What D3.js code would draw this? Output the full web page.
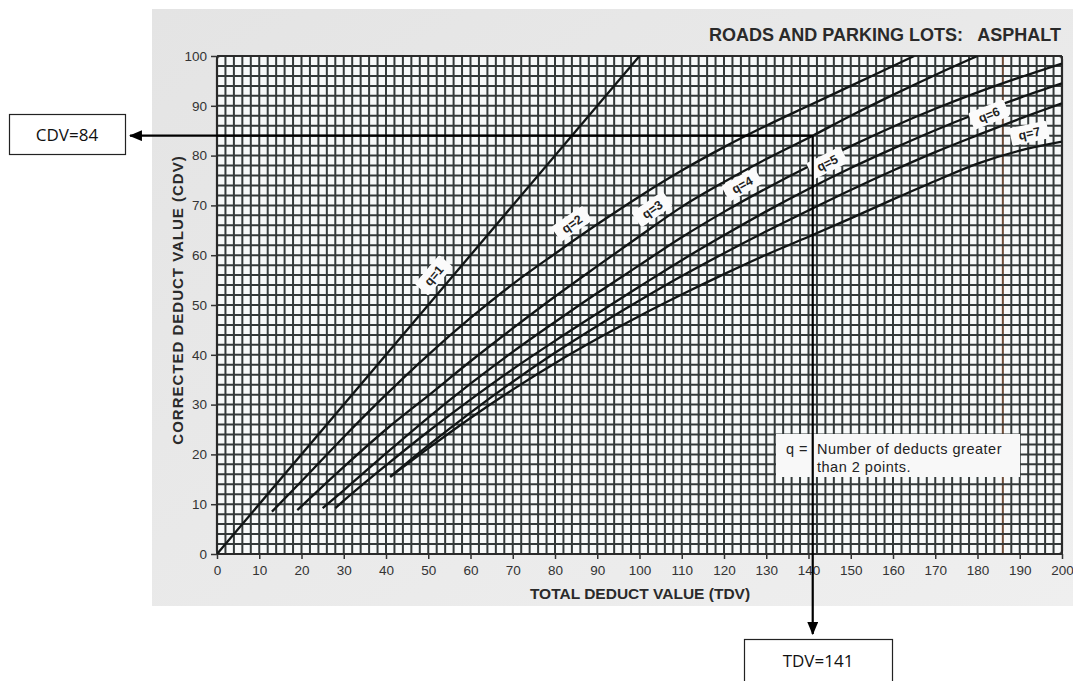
<!DOCTYPE html>
<html>
<head>
<meta charset="utf-8">
<script src="https://cdn.jsdelivr.net/npm/d3@7"></script>
<style>
  body { margin: 0; background: #ffffff; }
  svg { display: block; }
</style>
</head>
<body>
<svg id="chart" width="1073" height="681"></svg>
<script>
// ---- Axis ticks ----
const tdvTicks = d3.range(0, 201, 10);
const cdvTicks = d3.range(0, 101, 10);

// ---- Correction curves: TDV -> CDV, one pair of arrays per q ----
const q1Tdv = [0, 100];
const q1Cdv = [0, 100];

const q2Tdv = [13, 20, 30, 40, 50, 60, 70, 80, 90, 100, 110, 120, 130, 140, 150, 160, 165];
const q2Cdv = [8.5, 14.6, 23.5, 32, 40, 47.4, 54.2, 60.3, 66.2, 71.8, 77, 81.7, 86, 90, 94, 98, 100];

const q3Tdv = [19, 30, 40, 50, 60, 70, 80, 90, 100, 110, 120, 130, 141, 150, 160, 170, 180];
const q3Cdv = [8.8, 17.5, 25, 31.8, 38.7, 45.3, 51.7, 57.8, 63.8, 69.7, 74.7, 79.3, 84, 88, 92.2, 96.2, 100];

const q4Tdv = [25, 30, 40, 50, 60, 70, 80, 90, 100, 110, 120, 130, 140, 150, 160, 170, 180, 190, 200];
const q4Cdv = [9.2, 12.8, 20.2, 27.4, 34.2, 40.6, 46.6, 52.4, 58, 63.6, 68.7, 73.4, 77.8, 81.9, 85.8, 89.4, 92.7, 95.7, 98.5];

const q5Tdv = [28, 30, 40, 50, 60, 70, 80, 90, 100, 110, 120, 130, 140, 150, 160, 170, 180, 190, 200];
const q5Cdv = [9.2, 10.7, 17.8, 24.6, 31, 37.1, 42.8, 48.3, 53.7, 59, 64, 68.8, 73.3, 77.5, 81.4, 85.1, 88.5, 91.6, 94.5];

const q6Tdv = [41, 50, 60, 70, 80, 90, 100, 110, 120, 130, 140, 150, 160, 170, 180, 190, 200];
const q6Cdv = [15.5, 21.8, 28.4, 34.6, 40.4, 45.8, 50.9, 55.8, 60.4, 64.8, 69, 73.1, 77, 80.7, 84.1, 87.4, 90.5];

const q7Tdv = [41, 50, 60, 70, 80, 90, 100, 110, 120, 130, 140, 150, 160, 170, 180, 190, 200];
const q7Cdv = [15.5, 21.2, 27.3, 33, 38.3, 43.2, 47.8, 52.1, 56.2, 60.1, 63.7, 67.4, 71.2, 74.9, 78.4, 81, 82.8];

const curveNames = ["q=1", "q=2", "q=3", "q=4", "q=5", "q=6", "q=7"];
const labelTdv = [54, 86, 105, 126, 146, 184, 193];

// ---- Worked reading ----
const readTdv = 141;
const readCdv = 84;

// ---- Texts ----
const chartTitle = "ROADS AND PARKING LOTS:   ASPHALT";
const xTitle = "TOTAL DEDUCT VALUE (TDV)";
const yTitle = "CORRECTED DEDUCT VALUE (CDV)";
const noteSymbol = "q =";
const noteLines = ["Number of deducts greater", "than 2 points."];

// ---- Build ----
const curves = [
  [q1Tdv, q1Cdv], [q2Tdv, q2Cdv], [q3Tdv, q3Cdv], [q4Tdv, q4Cdv],
  [q5Tdv, q5Cdv], [q6Tdv, q6Cdv], [q7Tdv, q7Cdv]
].map(([t, c], i) => ({ name: curveNames[i], pts: t.map((v, k) => [v, c[k]]), labelAt: labelTdv[i] }));

const svg = d3.select("#chart");
const x = d3.scaleLinear().domain([0, 200]).range([217, 1062]);
const y = d3.scaleLinear().domain([0, 100]).range([554, 56]);
const sans = "'Liberation Sans', Arial, Helvetica, sans-serif";

const defs = svg.append("defs");
const paperGrad = defs.append("linearGradient").attr("id", "paper").attr("x1", 0).attr("y1", 0).attr("x2", 1).attr("y2", 1);
paperGrad.append("stop").attr("offset", "0%").attr("stop-color", "#e4e4e4");
paperGrad.append("stop").attr("offset", "100%").attr("stop-color", "#efefef");
defs.append("clipPath").attr("id", "plotClip").append("rect")
  .attr("x", x(0)).attr("y", y(100)).attr("width", x(200) - x(0)).attr("height", y(0) - y(100));
defs.append("marker").attr("id", "arrow").attr("viewBox", "0 0 12 10")
  .attr("refX", 11).attr("refY", 5).attr("markerWidth", 13).attr("markerHeight", 11)
  .attr("markerUnits", "userSpaceOnUse").attr("orient", "auto")
  .append("path").attr("d", "M0,0 L12,5 L0,10 Z").attr("fill", "#000");

// paper sheet
svg.append("rect").attr("x", 152).attr("y", 9).attr("width", 921).attr("height", 597)
  .attr("fill", "url(#paper)");

// plot field
svg.append("rect").attr("x", x(0)).attr("y", y(100))
  .attr("width", x(200) - x(0)).attr("height", y(0) - y(100))
  .attr("fill", "#f7f9f9");

// grid every 2 units
const grid = svg.append("g");
grid.selectAll("line.v").data(d3.range(0, 201, 2)).join("line")
  .attr("x1", d => x(d)).attr("x2", d => x(d)).attr("y1", y(0)).attr("y2", y(100))
  .attr("stroke", d => d === 186 ? "#6e4c38" : "#343a3a").attr("stroke-width", 2);
grid.selectAll("line.h").data(d3.range(0, 101, 2)).join("line")
  .attr("y1", d => y(d)).attr("y2", d => y(d)).attr("x1", x(0)).attr("x2", x(200))
  .attr("stroke", "#343a3a").attr("stroke-width", 2);
svg.append("rect").attr("x", x(0)).attr("y", y(100))
  .attr("width", x(200) - x(0)).attr("height", y(0) - y(100)).attr("rx", 3)
  .attr("fill", "none").attr("stroke", "#2a2a2a").attr("stroke-width", 2.2);

// axes
const xAxis = svg.append("g").attr("transform", `translate(0,${y(0)})`)
  .call(d3.axisBottom(x).tickValues(tdvTicks).tickSize(5).tickPadding(6));
const yAxis = svg.append("g").attr("transform", `translate(${x(0)},0)`)
  .call(d3.axisLeft(y).tickValues(cdvTicks).tickSize(6).tickPadding(4));
[xAxis, yAxis].forEach(g => {
  g.select(".domain").remove();
  g.selectAll(".tick line").attr("stroke", "#333").attr("stroke-width", 1.5);
  g.selectAll(".tick text").attr("fill", "#333")
    .style("font-family", sans).style("font-size", "13.5px");
});

// curves
const line = d3.line().x(d => x(d[0])).y(d => y(d[1])).curve(d3.curveMonotoneX);
svg.append("g").attr("clip-path", "url(#plotClip)")
  .selectAll("path").data(curves).join("path")
  .attr("d", d => line(d.pts))
  .attr("fill", "none").attr("stroke", "#121616").attr("stroke-width", 2.3);

// curve labels on white patches, set just above each curve
const labels = svg.append("g");
curves.forEach(cv => {
  const interp = d3.scaleLinear().domain(cv.pts.map(p => p[0])).range(cv.pts.map(p => p[1]));
  const t = cv.labelAt;
  const px = x(t), py = y(interp(t));
  const dx = x(t + 2) - x(t - 2), dy = y(interp(t + 2)) - y(interp(t - 2));
  const len = Math.hypot(dx, dy);
  const ux = dx / len, uy = dy / len;
  const off = 15;
  const cx = px + uy * off, cy = py - ux * off;
  const ang = Math.atan2(dy, dx) * 180 / Math.PI;
  const g = labels.append("g").attr("transform", `translate(${cx},${cy}) rotate(${ang})`);
  g.append("rect").attr("x", -19).attr("y", -9).attr("width", 38).attr("height", 18).attr("rx", 2)
    .attr("fill", "#fbfbfb");
  g.append("text").attr("text-anchor", "middle").attr("dy", "0.36em")
    .attr("fill", "#222").style("font-family", sans)
    .style("font-size", "12.5px").style("font-weight", "bold").text(cv.name);
});

// explanatory note
const note = svg.append("g").style("font-family", sans).style("font-size", "14.5px")
  .style("letter-spacing", "0.5px").attr("fill", "#222");
note.append("rect").attr("x", 776).attr("y", 434).attr("width", 244).attr("height", 43).attr("fill", "#f8f8f8");
note.append("text").attr("x", 786).attr("y", 454).text(noteSymbol);
note.append("text").attr("x", 817).attr("y", 454).text(noteLines[0]);
note.append("text").attr("x", 817).attr("y", 472).text(noteLines[1]);

// titles
svg.append("text").attr("x", 1061).attr("y", 41).attr("text-anchor", "end").attr("fill", "#2a2a2a")
  .style("font-family", sans).style("font-size", "18px")
  .style("font-weight", "bold").attr("xml:space", "preserve").text(chartTitle);
svg.append("text").attr("x", 640).attr("y", 599).attr("text-anchor", "middle")
  .attr("fill", "#2a2a2a").style("font-family", sans)
  .style("font-size", "15.5px").style("font-weight", "bold").text(xTitle);
svg.append("text").attr("transform", `translate(183,300) rotate(-90)`)
  .attr("text-anchor", "middle").attr("fill", "#2a2a2a")
  .style("font-family", sans).style("letter-spacing", "1px")
  .style("font-size", "15px").style("font-weight", "bold").text(yTitle);

// reading guide: TDV up to the q=3 curve, across to CDV
svg.append("line").attr("x1", x(readTdv)).attr("y1", y(readCdv)).attr("x2", 130).attr("y2", y(readCdv))
  .attr("stroke", "#000").attr("stroke-width", 2.2).attr("marker-end", "url(#arrow)");
svg.append("line").attr("x1", x(readTdv)).attr("y1", y(readCdv)).attr("x2", x(readTdv)).attr("y2", 634)
  .attr("stroke", "#000").attr("stroke-width", 2.2).attr("marker-end", "url(#arrow)");

// value boxes
svg.append("rect").attr("x", 9.5).attr("y", 114.5).attr("width", 116).attr("height", 40)
  .attr("fill", "#fff").attr("stroke", "#222").attr("stroke-width", 1.2);
svg.append("text").attr("x", 67).attr("y", 135).attr("dy", "0.36em").attr("text-anchor", "middle")
  .attr("fill", "#111").style("font-family", "'Open Sans', 'Liberation Sans', sans-serif")
  .style("font-size", "17px").text(`CDV=${readCdv}`);
svg.append("rect").attr("x", 744.5).attr("y", 639.5).attr("width", 148).attr("height", 46)
  .attr("fill", "#fff").attr("stroke", "#222").attr("stroke-width", 1.2);
svg.append("text").attr("x", 818).attr("y", 661).attr("dy", "0.36em").attr("text-anchor", "middle")
  .attr("fill", "#111").style("font-family", "'Open Sans', 'Liberation Sans', sans-serif")
  .style("font-size", "17px").text(`TDV=${readTdv}`);
</script>
</body>
</html>
